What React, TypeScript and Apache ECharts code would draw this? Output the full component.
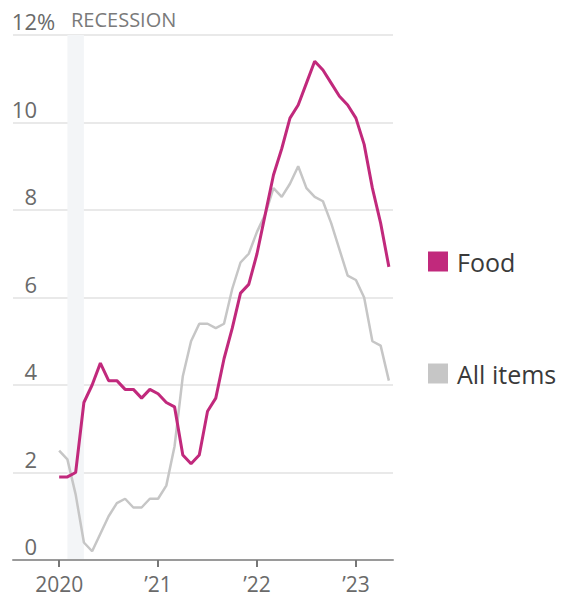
import React, { useEffect, useRef } from "react";
import * as echarts from "echarts";

// Year-over-year CPI change, monthly from Jan 2020 (index 0) to May 2023
const food = [
  1.9, 1.9, 2.0, 3.6, 4.0, 4.5, 4.1, 4.1, 3.9, 3.9, 3.7, 3.9,
  3.8, 3.6, 3.5, 2.4, 2.2, 2.4, 3.4, 3.7, 4.6, 5.3, 6.1, 6.3,
  7.0, 7.9, 8.8, 9.4, 10.1, 10.4, 10.9, 11.4, 11.2, 10.9, 10.6, 10.4,
  10.1, 9.5, 8.5, 7.7, 6.7,
];
const allItems = [
  2.5, 2.3, 1.5, 0.4, 0.2, 0.6, 1.0, 1.3, 1.4, 1.2, 1.2, 1.4,
  1.4, 1.7, 2.6, 4.2, 5.0, 5.4, 5.4, 5.3, 5.4, 6.2, 6.8, 7.0,
  7.5, 7.9, 8.5, 8.3, 8.6, 9.0, 8.5, 8.3, 8.2, 7.7, 7.1, 6.5,
  6.4, 6.0, 5.0, 4.9, 4.1,
];
const yearTicks = [0, 12, 24, 36];
const yearLabels = ["2020", "\u201921", "\u201922", "\u201923"];
const recession = [1, 3]; // Feb 2020 – Apr 2020
const yTicks = [0, 2, 4, 6, 8, 10, 12];

const FONT = "'Open Sans', 'Noto Sans', sans-serif";
const FOOD_COLOR = "#c1297c";
const ALL_COLOR = "#c6c6c6";

export default function App() {
  const ref = useRef<HTMLDivElement>(null);

  useEffect(() => {
    if (!ref.current) return;
    const chart = echarts.init(ref.current, null, { renderer: "svg" });
    const toPoints = (arr: number[]) => arr.map((v, i) => [i, v]);
    const labelMap: Record<number, string> = {};
    yearTicks.forEach((t, i) => (labelMap[t] = yearLabels[i]));

    chart.setOption({
      animation: false,
      backgroundColor: "#ffffff",
      textStyle: { fontFamily: FONT },
      grid: { left: 13, right: 176, top: 35, bottom: 42, containLabel: false },
      xAxis: {
        type: "value",
        min: -5.6,
        max: 40.5,
        splitLine: { show: false },
        axisLine: { show: true, lineStyle: { color: "#9a9a9a", width: 2 } },
        axisTick: {
          show: true,
          customValues: yearTicks,
          length: 7,
          lineStyle: { color: "#777", width: 2 },
        },
        axisLabel: {
          customValues: yearTicks,
          formatter: (v: number) => labelMap[v] ?? "",
          color: "#6a6a6a",
          fontSize: 21,
          fontFamily: FONT,
          margin: 13,
        },
      },
      yAxis: {
        type: "value",
        min: 0,
        max: 12,
        interval: 2,
        axisLine: { show: false },
        axisTick: { show: false },
        splitLine: { show: true, lineStyle: { color: "#e9e9e9", width: 2 } },
        axisLabel: {
          inside: true,
          align: "right",
          verticalAlign: "bottom",
          margin: 24,
          padding: [0, 0, 3, 0],
          color: "#6a6a6a",
          fontSize: 22,
          fontFamily: FONT,
          formatter: (v: number) => (yTicks.includes(v) ? String(v) : ""),
        },
      },
      legend: [
        {
          data: [{ name: "Food", icon: "rect" }],
          left: 423,
          top: 244,
          itemWidth: 20,
          itemHeight: 20,
          itemGap: 10,
          textStyle: { fontSize: 25, color: "#3a3a3a", fontFamily: FONT, padding: [0, 0, 0, 4] },
          selectedMode: false,
        },
        {
          data: [{ name: "All items", icon: "rect" }],
          left: 423,
          top: 356,
          itemWidth: 20,
          itemHeight: 20,
          textStyle: { fontSize: 25, color: "#3a3a3a", fontFamily: FONT, padding: [0, 0, 0, 4] },
          selectedMode: false,
        },
      ],
      graphic: [
        {
          type: "text",
          left: 37,
          top: 10,
          style: { text: "%", fill: "#6a6a6a", font: `22px ${FONT}` },
        },
        {
          type: "text",
          left: 71,
          top: 9,
          style: { text: "RECESSION", fill: "#7a7a7a", font: `20px ${FONT}` },
        },
      ],
      series: [
        {
          name: "All items",
          type: "line",
          data: toPoints(allItems),
          showSymbol: false,
          symbol: "none",
          color: ALL_COLOR,
          lineStyle: { color: ALL_COLOR, width: 2.5 },
          z: 2,
          markArea: {
            silent: true,
            itemStyle: { color: "#f3f5f7", opacity: 1 },
            data: [[{ xAxis: recession[0] }, { xAxis: recession[1] }]],
            z: 0,
          },
        },
        {
          name: "Food",
          type: "line",
          data: toPoints(food),
          showSymbol: false,
          symbol: "none",
          color: FOOD_COLOR,
          lineStyle: { color: FOOD_COLOR, width: 3 },
          z: 3,
        },
      ],
    });
    return () => chart.dispose();
  }, []);

  return <div ref={ref} style={{ width: 569, height: 602, position: "absolute", left: 0, top: 0 }} />;
}
